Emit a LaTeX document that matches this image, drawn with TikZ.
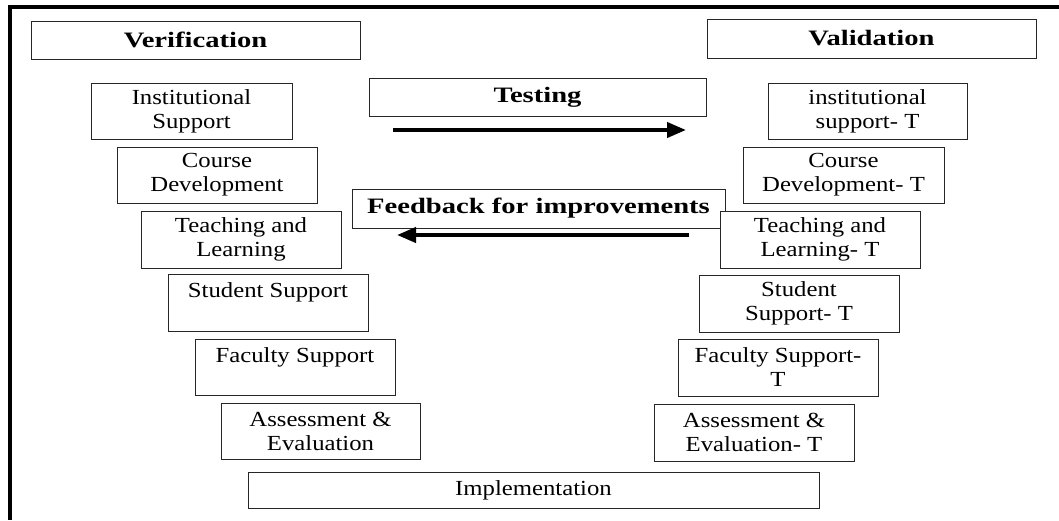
\documentclass[tikz,border=0pt]{standalone}
\usepackage{fontspec}
\setmainfont[FakeStretch=1.15]{Liberation Serif}
\newfontfamily\hdfont[FakeStretch=1.3]{Liberation Serif}
\usetikzlibrary{arrows.meta}
\tikzset{
  box/.style={draw=black!85, line width=0.8pt, fill=white, inner sep=0pt, align=center,
    font=\fontsize{21.5}{24}\selectfont},
  stepbox/.style={box, minimum width=200pt, minimum height=57pt},
  headbox/.style={box, font=\hdfont\bfseries\fontsize{22}{24}\selectfont},
  frameline/.style={line width=4pt},
  bigarrow/.style={line width=4pt, -{Triangle[length=19pt,width=15pt]}}
}
\begin{document}
\begin{tikzpicture}[x=1pt,y=-1pt]
\useasboundingbox (0,0) rectangle (1059,520);
% frame
\coordinate (f0) at (8,7);
\coordinate (f1) at (1059,7);
\coordinate (f2) at (10,5);
\coordinate (f3) at (10,520);
\draw[frameline] (f0) -- (f1);
\draw[frameline] (f2) -- (f3);
% headers
\node[headbox, minimum width=329pt, minimum height=38pt] (ver) at (195.5,40) {Verification};
\node[headbox, minimum width=329pt, minimum height=39pt] (val) at (871.5,38.5) {Validation};
\node[headbox, minimum width=337pt, minimum height=38pt] (test) at (537.5,97) {Testing};
\node[headbox, minimum width=373pt, minimum height=39pt] (feed) at (538.5,208.5) {Feedback for improvements};
% left side
\node[stepbox, minimum width=201pt, minimum height=56pt] (l1) at (191.5,111) {Institutional\\Support};
\node[stepbox, minimum height=56pt] (l2) at (217,175) {Course\\Development};
\node[stepbox] (l3) at (241,239.5) {Teaching and\\Learning};
\node[stepbox] (l4) at (268,302.5) {Student Support\\\mbox{}};
\node[stepbox, minimum height=56pt] (l5) at (295,367) {Faculty Support\\\mbox{}};
\node[stepbox, minimum width=199pt, minimum height=56pt] (l6) at (320.5,431) {Assessment \&\\Evaluation};
% bottom
\node[box, minimum width=571pt, minimum height=36pt] (impl) at (533.5,490) {Implementation};
% right side
\node[stepbox, minimum width=199pt, minimum height=56pt] (r1) at (867.5,111) {institutional\\support- T};
\node[stepbox, minimum width=201pt, minimum height=56pt] (r2) at (843.5,175) {Course\\Development- T};
\node[stepbox] (r3) at (820,239.5) {Teaching and\\Learning- T};
\node[stepbox] (r4) at (799,303.5) {Student\\Support- T};
\node[stepbox] (r5) at (778,367.5) {Faculty Support-\\T};
\node[stepbox] (r6) at (754,432.5) {Assessment \&\\Evaluation- T};
% arrows
\coordinate (ta1) at (393,130);
\coordinate (ta2) at (686,130);
\coordinate (fa1) at (689,235);
\coordinate (fa2) at (397,235);
\draw[bigarrow] (ta1) -- (ta2);
\draw[bigarrow] (fa1) -- (fa2);
\end{tikzpicture}
\end{document}
